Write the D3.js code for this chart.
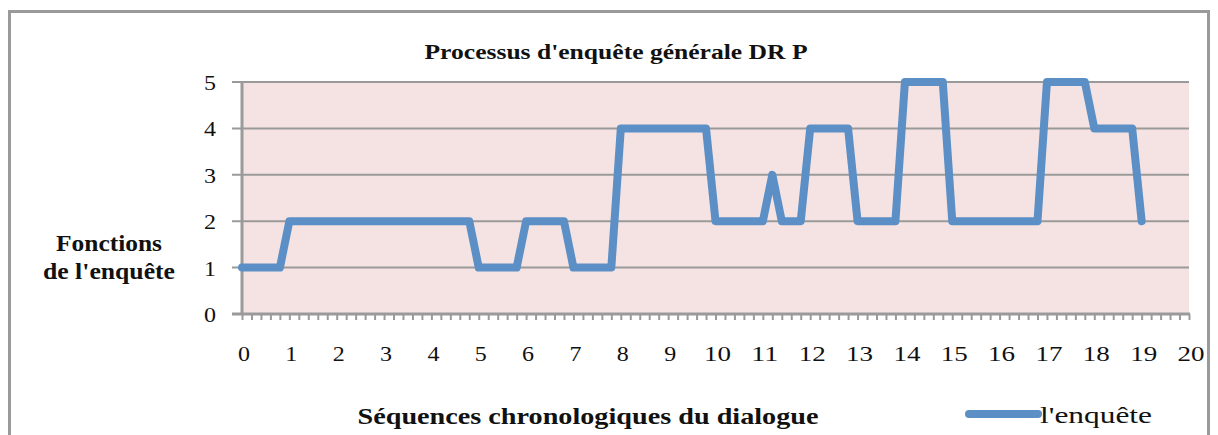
<!DOCTYPE html>
<html><head><meta charset="utf-8">
<script src="https://cdn.jsdelivr.net/npm/d3@7"></script>
<style>html,body{margin:0;padding:0;background:#fff;}svg{display:block;}</style>
</head><body>
<svg id="chart" width="1218" height="435" style="font-family:'Liberation Serif','DejaVu Serif',serif"></svg>
<script>
// ---- data ----
const title = "Processus d'enquête générale DR P";
const yTitleLines = ["Fonctions", "de l'enquête"];
const xTitle = "Séquences chronologiques du dialogue";
const seriesName = "l'enquête";
const xValues = [0,0.8,1,4.8,5,5.8,6,6.8,7,7.8,8,9.8,10,11,11.2,11.4,11.8,12,12.8,13,13.8,14,14.8,15,16.8,17,17.8,18,18.8,19];
const yValues = [1,1,2,2,1,1,2,2,1,1,4,4,2,2,3,2,2,4,4,2,2,5,5,2,2,5,5,4,4,2];
const xTicks = [0,1,2,3,4,5,6,7,8,9,10,11,12,13,14,15,16,17,18,19,20];
const yTicks = [0,1,2,3,4,5];

// ---- layout ----
const svg = d3.select("#chart");
const L = 242, R = 1189, T = 82, B = 314;
const x = d3.scaleLinear().domain([0,20]).range([L,R]);
const y = d3.scaleLinear().domain([0,5]).range([B,T]);
const grid = "#9a9a9a", lineColor = "#5b8fc6";
const FF = "'Liberation Serif','DejaVu Serif',serif";

// outer frame
svg.append("rect").attr("x",9.5).attr("y",11.5).attr("width",1199).attr("height",440)
  .attr("fill","none").attr("stroke",grid).attr("stroke-width",3);

// plot background
svg.append("rect").attr("x",L).attr("y",T).attr("width",R-L).attr("height",B-T).attr("fill","#f4e3e2");

// horizontal gridlines + y ticks
svg.append("g").selectAll("line").data(yTicks.filter(d=>d>0)).join("line")
  .attr("x1",L-10).attr("x2",R).attr("y1",d=>y(d)).attr("y2",d=>y(d))
  .attr("stroke",grid).attr("stroke-width",2);

// x axis with minor ticks
const minor = d3.range(0,101).map(i=>i/5);
const xAxis = d3.axisBottom(x).tickValues(minor).tickSize(6).tickFormat("");
const gx = svg.append("g").attr("transform",`translate(0,${B})`).call(xAxis);
gx.select(".domain").remove();
gx.selectAll(".tick line").attr("stroke",grid).attr("stroke-width",2);
svg.append("line").attr("x1",L-10).attr("x2",R+1).attr("y1",B).attr("y2",B).attr("stroke",grid).attr("stroke-width",3);

// y axis line
svg.append("line").attr("x1",L).attr("x2",L).attr("y1",T).attr("y2",B+1).attr("stroke",grid).attr("stroke-width",3);

// x tick labels
svg.append("g").selectAll("text").data(xTicks).join("text")
  .attr("x",d=>x(d)+2).attr("y",B+47).attr("text-anchor","middle")
  .style("font-family",FF).attr("font-size",21).attr("fill","#111")
  .attr("textLength",d=>String(d).length>1?27:12).attr("lengthAdjust","spacingAndGlyphs").text(d=>d);

// y tick labels
svg.append("g").selectAll("text").data(yTicks).join("text")
  .attr("x",L-32).attr("y",d=>y(d)+8).attr("text-anchor","middle")
  .style("font-family",FF).attr("font-size",21).attr("fill","#111")
  .attr("textLength",12).attr("lengthAdjust","spacingAndGlyphs").text(d=>d);

// line
const pts = xValues.map((v,i)=>[v,yValues[i]]);
svg.append("path").datum(pts)
  .attr("d", d3.line().x(d=>x(d[0])).y(d=>y(d[1])))
  .attr("fill","none").attr("stroke",lineColor).attr("stroke-width",8)
  .attr("stroke-linejoin","round").attr("stroke-linecap","round");

// title
svg.append("text").attr("x",616).attr("y",59).attr("text-anchor","middle")
  .style("font-family",FF).attr("font-weight","bold").attr("font-size",20)
  .attr("textLength",383).attr("lengthAdjust","spacingAndGlyphs").attr("fill","#111").text(title);

// y title
svg.append("g").selectAll("text").data(yTitleLines).join("text")
  .attr("x",109).attr("y",(d,i)=>251+i*28).attr("text-anchor","middle")
  .style("font-family",FF).attr("font-weight","bold").attr("font-size",23)
  .attr("textLength",(d,i)=>i===0?106:132).attr("lengthAdjust","spacingAndGlyphs")
  .attr("fill","#111").text(d=>d);

// x title
svg.append("text").attr("x",588).attr("y",424).attr("text-anchor","middle")
  .style("font-family",FF).attr("font-weight","bold").attr("font-size",24)
  .attr("textLength",461).attr("lengthAdjust","spacingAndGlyphs").attr("fill","#111").text(xTitle);

// legend
svg.append("line").attr("x1",969).attr("x2",1038).attr("y1",414).attr("y2",414)
  .attr("stroke",lineColor).attr("stroke-width",8).attr("stroke-linecap","round");
svg.append("text").attr("x",1040).attr("y",423)
  .style("font-family",FF).attr("font-size",23)
  .attr("textLength",112).attr("lengthAdjust","spacingAndGlyphs").attr("fill","#111").text(seriesName);
</script>
</body></html>
